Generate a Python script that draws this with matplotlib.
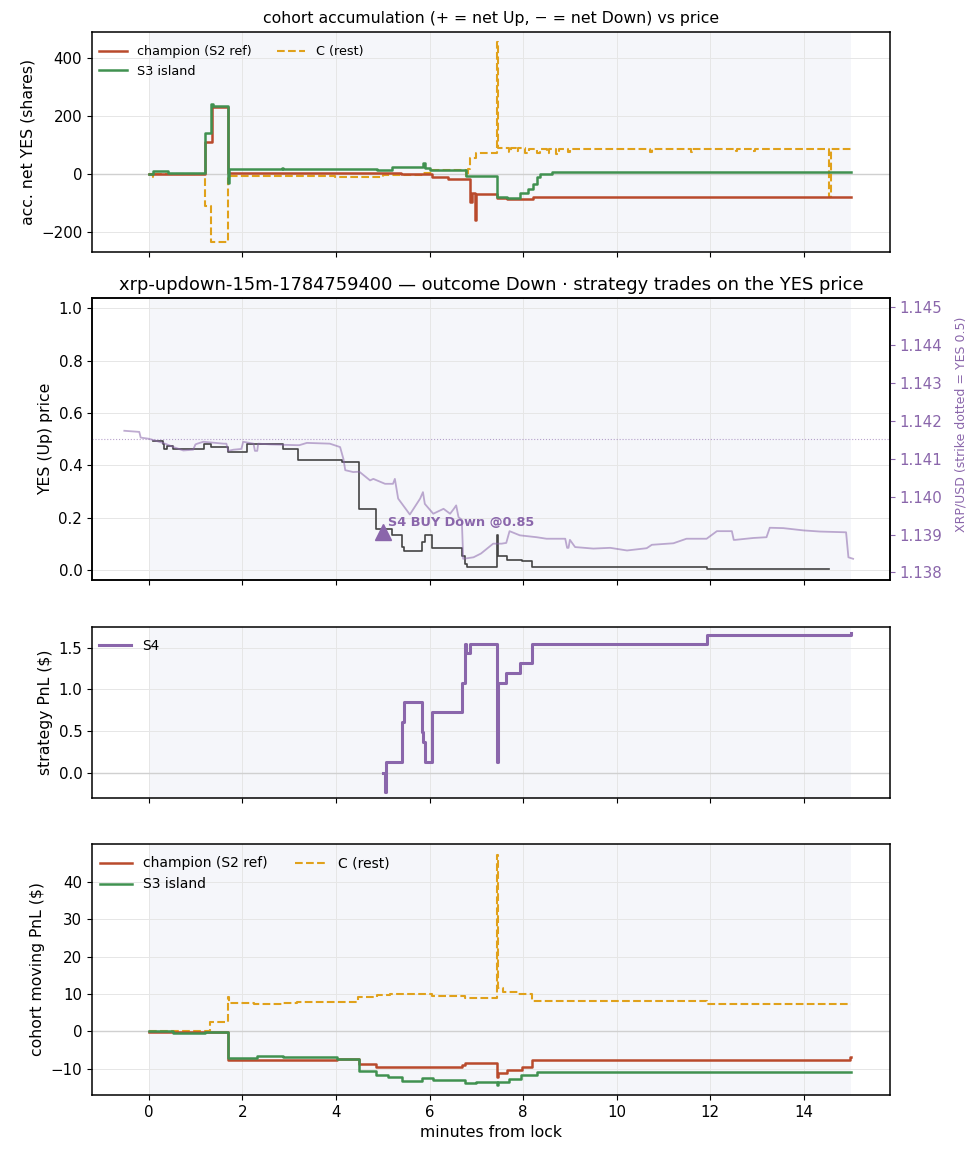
import matplotlib
matplotlib.use("Agg")
import matplotlib.pyplot as plt
import numpy as np

# ---------------- data ----------------
# panel 1: accumulated net YES (shares)
ch_acc_t = [0.00, 1.20, 1.35, 1.70, 4.87, 5.40, 6.05, 6.40, 6.86, 6.90, 6.97, 7.00, 7.44, 7.65, 8.22, 15.00]
ch_acc_v = [2, 113, 233, 6, 3, 0, -8, -16, -94, -66, -157, -69, -83, -86, -77, -77]

s3_acc_t = [0.00, 0.10, 0.42, 0.60, 1.20, 1.33, 1.38, 1.70, 1.72, 2.84, 2.86, 4.87, 5.20, 5.48,
            5.87, 5.90, 6.00, 6.78, 7.44, 7.65, 7.93, 8.11, 8.22, 8.29, 8.36, 8.61, 15.00]
s3_acc_v = [0, 10, 6, 3, 141, 242, 235, -30, 17, 22, 17, 15, 24, 26,
            40, 21, 15, -6, -77, -83, -66, -52, -33, -8, 1, 7, 7]

c_acc_t = [0.00, 0.10, 0.13, 1.20, 1.33, 1.70, 3.98, 5.00, 5.87, 6.05, 6.79, 6.82, 6.86, 7.00,
           7.44, 7.46, 7.70, 7.74, 7.85, 7.90, 8.05, 8.12, 8.30, 8.36, 8.50, 8.56, 8.70, 8.76,
           8.95, 9.00, 10.72, 10.75, 11.58, 11.61, 12.55, 12.58, 12.92, 12.95, 14.54, 14.57, 15.00]
c_acc_v = [0, -8, 0, -111, -232, -6, -8, -3, 3, 15, -6, 18, 55, 75,
           457, 90, 78, 90, 80, 92, 75, 86, 72, 86, 74, 86, 70, 86,
           76, 86, 78, 86, 78, 86, 79, 86, 80, 86, -77, 86, 86]

# panel 2: YES price and XRP/USD
yes_t = [0.09, 0.31, 0.33, 0.40, 0.53, 1.19, 1.33, 1.70, 2.10, 2.86, 3.20, 4.14, 4.50, 4.86,
         5.19, 5.41, 5.45, 5.85, 5.90, 6.05, 6.69, 6.76, 6.80, 7.44, 7.46, 7.65, 7.97, 8.20,
         11.92, 14.54]
yes_v = [0.493, 0.483, 0.462, 0.474, 0.462, 0.480, 0.471, 0.450, 0.483, 0.462, 0.419, 0.411, 0.231, 0.158,
         0.132, 0.089, 0.072, 0.106, 0.132, 0.083, 0.052, 0.022, 0.010, 0.132, 0.052, 0.036, 0.033, 0.010,
         0.003, 0.003]

xrp_t = [-0.52, -0.20, -0.17, 0.00, 0.17, 0.35, 0.53, 0.74, 0.95, 1.00, 1.04, 1.17, 1.60, 1.66,
         1.70, 1.81, 1.98, 2.02, 2.24, 2.27, 2.32, 2.34, 2.60, 3.16, 3.22, 3.38, 3.87, 4.09,
         4.16, 4.20, 4.37, 4.50, 4.73, 4.80, 5.05, 5.22, 5.26, 5.33, 5.58, 5.80, 5.86, 5.90,
         6.08, 6.30, 6.44, 6.52, 6.57, 6.62, 6.69, 6.72, 6.94, 7.10, 7.36, 7.54, 7.64, 7.71,
         7.93, 8.29, 8.50, 8.90, 8.94, 8.97, 9.00, 9.11, 9.50, 9.86, 10.22, 10.64, 10.75,
         11.21, 11.49, 11.92, 12.14, 12.46, 12.50, 12.53, 12.92, 13.20, 13.27, 13.56, 13.99,
         14.34, 14.90, 14.95, 15.05]
xrp_v = [1.14174, 1.14171, 1.14156, 1.14153, 1.14147, 1.14140, 1.14131, 1.14122, 1.14124, 1.14138,
         1.14140, 1.14145, 1.14140, 1.14140, 1.14121, 1.14124, 1.14126, 1.14145, 1.14140, 1.14121,
         1.14121, 1.14140, 1.14138, 1.14136, 1.14136, 1.14142, 1.14140, 1.14131, 1.14100, 1.14070,
         1.14065, 1.14066, 1.14043, 1.14047, 1.14034, 1.14034, 1.14047, 1.13995, 1.13953, 1.13995,
         1.14012, 1.13981, 1.13955, 1.13968, 1.13955, 1.13968, 1.13977, 1.13946, 1.13939, 1.13836,
         1.13840, 1.13850, 1.13876, 1.13876, 1.13878, 1.13909, 1.13898, 1.13893, 1.13889, 1.13889,
         1.13865, 1.13865, 1.13886, 1.13867, 1.13863, 1.13865, 1.13858, 1.13864, 1.13873, 1.13877,
         1.13889, 1.13889, 1.13909, 1.13909, 1.13886, 1.13886, 1.13891, 1.13893, 1.13918, 1.13917,
         1.13911, 1.13908, 1.13906, 1.13840, 1.13836]
strike = 1.14152

trade_t = [5.01]
trade_p = [0.144]
trade_label = "S4 BUY Down @0.85"

# panel 3: strategy PnL
s4_t = [5.00, 5.05, 5.08, 5.41, 5.45, 5.85, 5.87, 5.90, 6.06, 6.69, 6.76, 6.79, 6.87, 7.45,
        7.47, 7.64, 7.93, 8.20, 11.92, 14.56, 15.00]
s4_v = [0.0, -0.23, 0.128, 0.608, 0.848, 0.488, 0.368, 0.128, 0.728, 1.076, 1.54, 1.43, 1.54, 0.128,
        1.076, 1.196, 1.316, 1.54, 1.645, 1.655, 1.67]

# panel 4: cohort moving PnL
ch_pnl_t = [0.00, 1.70, 4.02, 4.50, 4.86, 6.69, 6.76, 7.44, 7.46, 7.65, 7.97, 8.20, 14.98, 15.00]
ch_pnl_v = [-0.1, -7.7, -7.5, -8.7, -9.4, -9.0, -8.5, -12.1, -11.2, -10.3, -9.4, -7.7, -6.8, -6.8]

s3_pnl_t = [0.00, 0.53, 1.20, 1.70, 2.31, 2.88, 4.02, 4.50, 4.86, 5.12, 5.41, 5.84, 6.07, 6.76,
            7.00, 7.44, 7.46, 7.70, 7.95, 8.30, 15.00]
s3_pnl_v = [0.0, -0.4, -0.1, -7.2, -6.6, -6.9, -7.5, -10.5, -11.7, -12.1, -13.4, -12.5, -13.0, -13.9,
            -13.6, -14.3, -13.6, -12.8, -11.7, -10.8, -10.8]

c_pnl_t = [0.00, 1.31, 1.70, 1.72, 2.24, 2.84, 3.16, 4.48, 4.87, 5.16, 6.05, 6.76, 7.44, 7.46,
           7.58, 7.90, 8.18, 11.92, 15.00]
c_pnl_v = [0.0, 2.6, 9.3, 7.7, 7.3, 7.7, 7.9, 9.2, 9.7, 9.9, 9.5, 8.8, 47.1, 11.7,
           10.6, 10.0, 8.2, 7.3, 7.3]

# ---------------- style ----------------
C_CH = "#b94a2c"
C_S3 = "#409150"
C_C = "#e0a11b"
C_PU = "#8a66ab"
C_YES = "#444444"
SHADE = "#f5f6fa"
GRID = "#e6e6e6"
LAB = 11.3
TICK = 10.8

fig = plt.figure(figsize=(9.78, 11.56), dpi=100)
L, W = 0.0941, 0.816
ax1 = fig.add_axes([L, 0.7823, W, 0.1903])
ax2 = fig.add_axes([L, 0.4983, W, 0.2437], sharex=ax1)
ax3 = fig.add_axes([L, 0.3094, W, 0.1485], sharex=ax1)
ax4 = fig.add_axes([L, 0.0528, W, 0.2171], sharex=ax1)

for ax in (ax1, ax2, ax3, ax4):
    ax.axvspan(0, 15, color=SHADE, zorder=0, lw=0)
    ax.grid(True, color=GRID, lw=0.7, zorder=0.5)
    ax.set_axisbelow(True)
    for s in ax.spines.values():
        s.set_linewidth(1.1)

# panel 1
ax1.axhline(0, color="#d0d0d0", lw=1.0, zorder=1)
ax1.step(ch_acc_t, ch_acc_v, where="post", color=C_CH, lw=1.8, label="champion (S2 ref)", zorder=3)
ax1.step(s3_acc_t, s3_acc_v, where="post", color=C_S3, lw=1.8, label="S3 island", zorder=3)
ax1.step(c_acc_t, c_acc_v, where="post", color=C_C, lw=1.5, ls="--", label="C (rest)", zorder=2)
ax1.set_ylim(-267, 492)
ax1.set_yticks([-200, 0, 200, 400])
ax1.set_ylabel("acc. net YES (shares)", fontsize=LAB)
ax1.set_title("cohort accumulation (+ = net Up, \u2212 = net Down) vs price", fontsize=11.3)
ax1.legend(loc="upper left", ncol=2, frameon=False, fontsize=9.2, bbox_to_anchor=(-0.006, 0.99),
           handlelength=2.2, columnspacing=2.0)
ax1.tick_params(labelbottom=False)

# panel 2
ax2.step(yes_t, yes_v, where="post", color=C_YES, lw=1.2, zorder=3)
ax2.set_ylim(-0.0385, 1.0385)
ax2.set_yticks([0.0, 0.2, 0.4, 0.6, 0.8, 1.0])
ax2.set_ylabel("YES (Up) price", fontsize=LAB)
ax2.set_title("xrp-updown-15m-1784759400 \u2014 outcome Down \u00b7 strategy trades on the YES price", fontsize=12.9)
ax2.plot(trade_t, trade_p, marker="^", ms=11, color=C_PU, ls="none", zorder=5)
ax2.text(trade_t[0] + 0.11, trade_p[0] + 0.012, trade_label, color=C_PU, fontsize=9.3,
         fontweight="bold", va="bottom", ha="left", zorder=6)
ax2.tick_params(labelbottom=False)

ax2r = ax2.twinx()
half = 0.5385 * 0.006905
ax2r.set_ylim(strike - half, strike + half)
ax2r.plot(xrp_t, xrp_v, color=C_PU, alpha=0.55, lw=1.3, zorder=2)
ax2r.axhline(strike, color=C_PU, alpha=0.6, lw=0.8, ls=":", zorder=2)
xrp_ticks = [1.138, 1.139, 1.140, 1.141, 1.142, 1.143, 1.144, 1.145]
ax2r.set_yticks(xrp_ticks)
ax2r.set_yticklabels(["%.3f" % v for v in xrp_ticks])
ax2r.tick_params(axis="y", colors=C_PU, labelsize=TICK)
ax2r.set_ylabel("XRP/USD (strike dotted = YES 0.5)", color=C_PU, fontsize=9)
ax2r.yaxis.set_label_coords(1.081, 0.553)
for s in ax2r.spines.values():
    s.set_linewidth(1.1)

# panel 3
ax3.axhline(0, color="#d0d0d0", lw=1.0, zorder=1)
ax3.step(s4_t, s4_v, where="post", color=C_PU, lw=2.2, label="S4", zorder=3)
ax3.set_ylim(-0.31, 1.75)
ax3.set_yticks([0.0, 0.5, 1.0, 1.5])
ax3.set_ylabel("strategy PnL ($)", fontsize=LAB)
ax3.legend(loc="upper left", frameon=False, fontsize=9.8, handlelength=2.3,
           bbox_to_anchor=(-0.006, 1.0))
ax3.tick_params(labelbottom=False)

# panel 4
ax4.axhline(0, color="#d0d0d0", lw=1.0, zorder=1)
ax4.step(ch_pnl_t, ch_pnl_v, where="post", color=C_CH, lw=1.8, label="champion (S2 ref)", zorder=3)
ax4.step(s3_pnl_t, s3_pnl_v, where="post", color=C_S3, lw=1.8, label="S3 island", zorder=3)
ax4.step(c_pnl_t, c_pnl_v, where="post", color=C_C, lw=1.5, ls="--", label="C (rest)", zorder=2)
ax4.set_ylim(-17, 50.1)
ax4.set_yticks([-10, 0, 10, 20, 30, 40])
ax4.set_ylabel("cohort moving PnL ($)", fontsize=LAB)
ax4.set_xlabel("minutes from lock", fontsize=LAB)
ax4.legend(loc="upper left", ncol=2, frameon=False, fontsize=10, bbox_to_anchor=(-0.006, 1.0),
           handlelength=2.3, columnspacing=2.0)

ax4.set_xlim(-1.21, 15.84)
ax4.set_xticks([0, 2, 4, 6, 8, 10, 12, 14])

for ax in (ax1, ax2, ax3, ax4):
    ax.tick_params(axis="both", labelsize=TICK)

fig.savefig("out.png", dpi=100)
